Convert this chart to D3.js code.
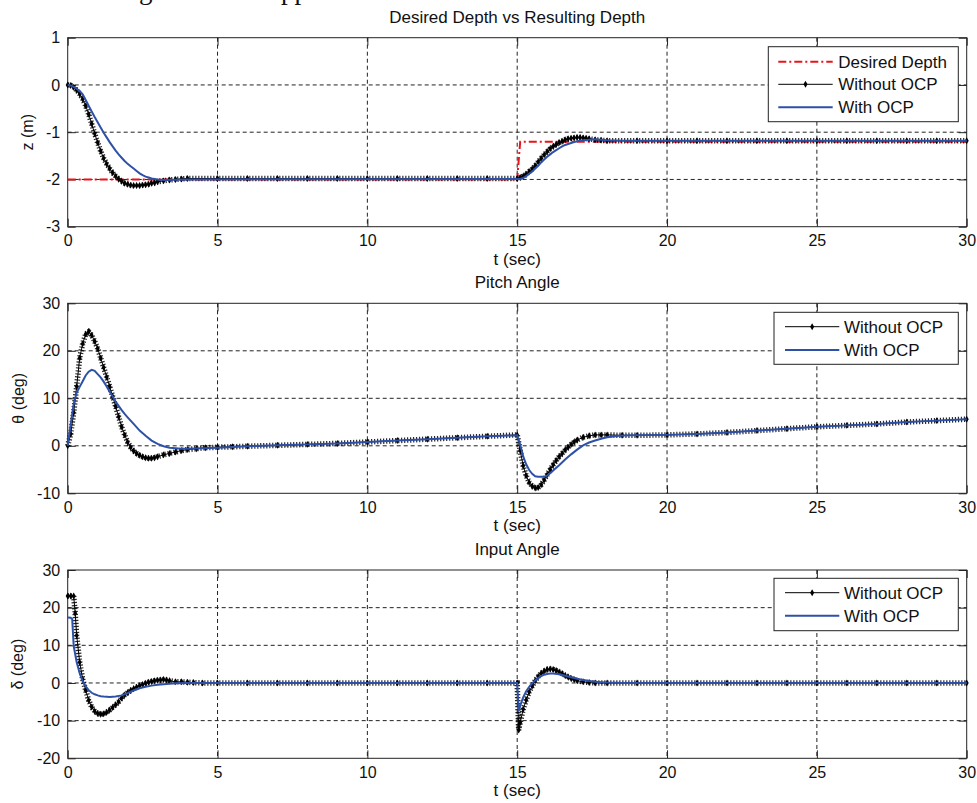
<!DOCTYPE html>
<html><head><meta charset="utf-8">
<script src="https://cdn.jsdelivr.net/npm/d3@7"></script>
<style>
body{margin:0;background:#fff}
text{font-family:"Liberation Sans",Arial,Helvetica,sans-serif;fill:#111}
</style>
</head><body>
<svg id="c" width="977" height="803"></svg>
<script>
// ---------- data ----------
const xTicks = [0, 5, 10, 15, 20, 25, 30];
const depthTicks = [-3, -2, -1, 0, 1];
const pitchTicks = [-10, 0, 10, 20, 30];
const inputTicks = [-20, -10, 0, 10, 20, 30];

// Desired depth
const tDesired = [0, 15.0, 15.1, 30];
const zDesired = [-2, -2, -1.2, -1.2];

// Depth, without OCP
const tDepthNo = [0,0.1,0.2,0.3,0.4,0.5,0.6,0.7,0.8,0.9,1.0,1.1,1.2,1.3,1.4,1.5,1.6,1.7,1.8,1.9,2.0,2.1,2.2,2.3,2.4,2.5,2.6,2.7,2.8,2.9,3.0,3.2,3.4,3.6,3.8,4.0,5,6,7,8,9,10,11,12,13,14,15.0,
  15.1,15.2,15.3,15.4,15.5,15.6,15.7,15.8,15.9,16.0,16.1,16.2,16.3,16.4,16.5,16.6,16.7,16.8,16.9,17.0,17.1,17.2,17.3,17.4,17.6,17.8,18.0,19,20,21,22,23,24,25,26,27,28,29,30];
const zDepthNo = [0,-0.01,-0.05,-0.11,-0.19,-0.30,-0.44,-0.62,-0.82,-1.03,-1.22,-1.40,-1.55,-1.67,-1.77,-1.86,-1.93,-1.99,-2.04,-2.08,-2.10,-2.12,-2.13,-2.13,-2.13,-2.12,-2.11,-2.10,-2.08,-2.07,-2.05,-2.03,-2.01,-2.0,-1.99,-1.98,-1.98,-1.98,-1.98,-1.98,-1.98,-1.98,-1.98,-1.98,-1.98,-1.98,-1.98,
  -1.96,-1.93,-1.89,-1.83,-1.78,-1.71,-1.63,-1.55,-1.48,-1.41,-1.35,-1.30,-1.26,-1.22,-1.19,-1.16,-1.14,-1.13,-1.12,-1.11,-1.11,-1.12,-1.13,-1.14,-1.16,-1.17,-1.18,-1.18,-1.18,-1.18,-1.18,-1.18,-1.18,-1.18,-1.18,-1.18,-1.18,-1.18,-1.18];

// Depth, with OCP
const tDepthOcp = [0,0.1,0.2,0.3,0.4,0.5,0.6,0.7,0.8,0.9,1.0,1.1,1.2,1.3,1.4,1.5,1.6,1.7,1.8,1.9,2.0,2.1,2.2,2.3,2.4,2.5,2.6,2.7,2.8,3.0,3.2,4,15.0,
  15.1,15.2,15.3,15.4,15.5,15.6,15.7,15.8,15.9,16.0,16.1,16.2,16.3,16.4,16.5,16.6,16.7,16.8,16.9,17.0,17.2,17.4,17.6,17.8,18.0,18.5,30];
const zDepthOcp = [0,-0.01,-0.04,-0.08,-0.13,-0.20,-0.32,-0.44,-0.56,-0.68,-0.79,-0.90,-1.01,-1.11,-1.21,-1.30,-1.39,-1.47,-1.54,-1.61,-1.67,-1.72,-1.77,-1.82,-1.87,-1.91,-1.94,-1.96,-1.98,-2.0,-2.01,-2.0,-1.99,
  -1.99,-1.97,-1.93,-1.88,-1.83,-1.77,-1.71,-1.64,-1.58,-1.52,-1.47,-1.42,-1.38,-1.34,-1.30,-1.27,-1.25,-1.23,-1.21,-1.19,-1.17,-1.16,-1.15,-1.16,-1.17,-1.18,-1.18];

// Pitch, without OCP
const tPitchNo = [0,0.1,0.2,0.3,0.4,0.5,0.6,0.7,0.8,0.9,1.0,1.1,1.2,1.3,1.4,1.5,1.6,1.7,1.8,1.9,2.0,2.1,2.2,2.3,2.4,2.5,2.6,2.7,2.8,2.9,3.0,3.2,3.4,3.6,3.8,4.0,4.3,4.6,5.0,5.5,6,7,8,9,10,11,12,13,14,15,
  15.1,15.2,15.3,15.4,15.5,15.6,15.7,15.8,15.9,16.0,16.1,16.2,16.3,16.4,16.5,16.6,16.7,16.8,16.9,17.0,17.2,17.4,17.6,17.8,18.0,18.5,19,20,21,22,23,24,25,26,27,28,29,30];
const thPitchNo = [0,2.5,7.0,12.5,18.5,21.5,23.5,24.0,23.3,22.0,20.5,18.5,16.5,14.5,12.5,10.4,8.3,6.1,4.0,2.3,0.8,-0.3,-1.1,-1.6,-2.0,-2.3,-2.5,-2.6,-2.6,-2.5,-2.3,-1.9,-1.6,-1.3,-1.0,-0.8,-0.6,-0.4,-0.3,-0.2,-0.1,0.1,0.3,0.5,0.8,1.1,1.4,1.7,2.0,2.3,
  -1.0,-4.2,-6.3,-7.7,-8.5,-8.9,-8.8,-8.2,-7.2,-6.1,-5.0,-4.0,-3.1,-2.3,-1.6,-0.9,-0.3,0.3,0.8,1.2,1.8,2.1,2.3,2.3,2.3,2.2,2.2,2.3,2.5,2.8,3.2,3.6,4.0,4.3,4.6,5.0,5.3,5.6];

// Pitch, with OCP
const tPitchOcp = [0,0.1,0.2,0.3,0.4,0.5,0.6,0.7,0.8,0.9,1.0,1.1,1.2,1.3,1.4,1.5,1.6,1.7,1.8,1.9,2.0,2.2,2.4,2.6,2.8,3.0,3.2,3.4,3.6,3.8,4.0,4.5,5,6,7,8,9,10,11,12,13,14,15.0,
  15.1,15.2,15.3,15.4,15.5,15.6,15.7,15.8,15.9,16.0,16.1,16.2,16.4,16.6,16.8,17.0,17.2,17.4,17.6,17.8,18.0,18.4,18.8,20,21,22,23,24,25,26,27,28,29,30];
const thPitchOcp = [0,4.5,8.8,11.2,12.4,13.6,14.8,15.6,16.0,15.8,15.1,14.4,13.5,12.5,11.4,10.4,9.3,8.4,7.5,6.7,6.0,4.6,3.2,2.1,1.1,0.4,-0.1,-0.4,-0.5,-0.6,-0.6,-0.5,-0.4,-0.1,0.1,0.3,0.5,0.8,1.1,1.4,1.7,2.0,2.2,
  0.2,-2.2,-3.9,-5.1,-5.9,-6.4,-6.5,-6.5,-6.5,-6.3,-5.8,-5.2,-4.1,-2.9,-1.8,-0.8,0.1,0.7,1.1,1.5,1.8,2.1,2.2,2.3,2.5,2.8,3.2,3.6,4.0,4.3,4.6,5.0,5.3,5.6];

// Input angle, without OCP
const tInputNo = [0,0.1,0.2,0.25,0.3,0.4,0.5,0.6,0.7,0.8,0.9,1.0,1.1,1.2,1.3,1.4,1.5,1.6,1.7,1.8,1.9,2.0,2.1,2.2,2.3,2.4,2.5,2.6,2.7,2.8,2.9,3.0,3.1,3.2,3.3,3.4,3.6,3.8,4.0,4.2,4.5,5,6,7,8,9,10,11,12,13,14,15.0,
  15.05,15.1,15.2,15.3,15.4,15.5,15.6,15.7,15.8,15.9,16.0,16.1,16.2,16.3,16.4,16.5,16.6,16.7,16.8,16.9,17.0,17.2,17.4,17.6,18,19,20,21,22,23,24,25,26,27,28,29,30];
const dInputNo = [23.1,23.1,23.1,18.5,12.6,5.5,1.0,-1.9,-4.6,-6.4,-7.5,-8.1,-8.3,-8.2,-7.8,-7.2,-6.5,-5.8,-5.0,-4.0,-3.2,-2.6,-2.0,-1.5,-1.1,-0.7,-0.4,-0.1,0.2,0.4,0.6,0.7,0.8,0.9,0.8,0.6,0.3,0.3,0.2,0.1,0,0,0,0,0,0,0,0,0,0,0,0,
  -12.5,-10.5,-7.0,-4.5,-2.4,-0.8,0.6,1.7,2.6,3.2,3.6,3.7,3.6,3.3,2.9,2.5,2.0,1.6,1.2,0.9,0.6,0.3,0.1,0,0,0,0,0,0,0,0,0,0,0,0,0,0];

// Input angle, with OCP
const tInputOcp = [0,0.1,0.15,0.2,0.3,0.4,0.5,0.6,0.7,0.8,0.9,1.0,1.1,1.2,1.4,1.6,1.8,2.0,2.2,2.4,2.6,2.8,3.0,3.3,3.6,4.0,15.0,
  15.05,15.1,15.2,15.3,15.4,15.5,15.6,15.7,15.8,15.9,16.0,16.1,16.2,16.4,16.6,16.8,17.0,17.2,17.4,17.6,17.8,18.0,18.5,30];
const dInputOcp = [17.4,17.3,17.0,9.8,5.5,2.6,0.5,-0.9,-1.9,-2.6,-3.0,-3.3,-3.5,-3.6,-3.7,-3.6,-3.3,-2.7,-2.0,-1.4,-1.0,-0.7,-0.5,-0.3,-0.1,0,0,
  -7.5,-6.0,-3.8,-2.2,-1.0,-0.1,0.7,1.3,1.8,2.2,2.4,2.5,2.5,2.3,1.9,1.5,1.1,0.8,0.5,0.3,0.2,0.1,0,0];

const legendDepth = ["Desired Depth", "Without OCP", "With OCP"];
const legendAngle = ["Without OCP", "With OCP"];

// ---------- drawing ----------
const svg = d3.select("#c");
svg.append("rect").attr("width", 977).attr("height", 803).attr("fill", "#fff");

// cut-off line of the surrounding document (only descenders visible, as in the reference)
svg.append("text").attr("x", 139).attr("y", -1).style("font-family", "'Liberation Serif',serif").style("font-size", "27px").text("g");
svg.append("text").attr("x", 281).attr("y", -1).style("font-family", "'Liberation Serif',serif").style("font-size", "27px").text("pp");

const BLUE = "#2e51a8";
const X0 = 67.7, X1 = 966.7;
const x = d3.scaleLinear().domain([0, 30]).range([X0, X1]);
const zip = (t, v) => t.map((d, i) => [d, v[i]]);
const fmt = d => String(d);

const panels = [
  { title: "Desired Depth vs Resulting Depth", ylabel: "z (m)", ylabX: 27, top: 37.7, bottom: 226.7,
    domain: [-3, 1], ticks: depthTicks,
    desired: zip(tDesired, zDesired), no: zip(tDepthNo, zDepthNo), ocp: zip(tDepthOcp, zDepthOcp),
    legend: legendDepth, lg: { x: 768.3, y: 46.7, w: 190, h: 75, rows: [61.7, 84.3, 107.3], l1: 778.3, l2: 832.7, tx: 838.3 } },
  { title: "Pitch Angle", ylabel: "\u03b8 (deg)", ylabX: 18, top: 303.3, bottom: 493.3,
    domain: [-10, 30], ticks: pitchTicks,
    no: zip(tPitchNo, thPitchNo), ocp: zip(tPitchOcp, thPitchOcp),
    legend: legendAngle, lg: { x: 774, y: 312.3, w: 184.3, h: 52, rows: [326.7, 350], l1: 785, l2: 839.3, tx: 844 } },
  { title: "Input Angle", ylabel: "\u03b4 (deg)", ylabX: 17, top: 570, bottom: 758.3,
    domain: [-20, 30], ticks: inputTicks,
    no: zip(tInputNo, dInputNo), ocp: zip(tInputOcp, dInputOcp),
    legend: legendAngle, lg: { x: 774, y: 578.3, w: 184.3, h: 52.4, rows: [592.7, 615.7], l1: 785, l2: 839.3, tx: 844 } }
];

panels.forEach(p => {
  const y = d3.scaleLinear().domain(p.domain).range([p.bottom, p.top]);
  const g = svg.append("g");

  // grid
  const gridX = xTicks.filter(v => v > 0 && v < 30);
  const gridY = p.ticks.filter(v => v > p.domain[0] && v < p.domain[1]);
  g.selectAll(".gx").data(gridX).join("line")
    .attr("x1", d => x(d)).attr("x2", d => x(d)).attr("y1", p.top).attr("y2", p.bottom)
    .attr("stroke", "#222").attr("stroke-dasharray", "4,3").attr("stroke-width", 1);
  g.selectAll(".gy").data(gridY).join("line")
    .attr("x1", X0).attr("x2", X1).attr("y1", d => y(d)).attr("y2", d => y(d))
    .attr("stroke", "#222").attr("stroke-dasharray", "4,3").attr("stroke-width", 1);

  // axes with inward ticks
  const ax = g.append("g").attr("transform", `translate(0,${p.bottom})`)
    .call(d3.axisBottom(x).tickValues(xTicks).tickSizeInner(-8).tickSizeOuter(0).tickPadding(8).tickFormat(fmt));
  const axT = g.append("g").attr("transform", `translate(0,${p.top})`)
    .call(d3.axisTop(x).tickValues(xTicks).tickSizeInner(-8).tickSizeOuter(0).tickFormat(""));
  const ay = g.append("g").attr("transform", `translate(${X0},0)`)
    .call(d3.axisLeft(y).tickValues(p.ticks).tickSizeInner(-8).tickSizeOuter(0).tickPadding(7).tickFormat(fmt));
  const ayR = g.append("g").attr("transform", `translate(${X1},0)`)
    .call(d3.axisRight(y).tickValues(p.ticks).tickSizeInner(-8).tickSizeOuter(0).tickFormat(""));
  [ax, axT, ay, ayR].forEach(a => {
    a.select(".domain").remove();
    a.selectAll("line").attr("stroke", "#222");
    a.selectAll("text").style("font-size", "16px").attr("fill", "#111");
  });
  ay.selectAll("text").attr("x", -7.5);

  // frame
  g.append("rect").attr("x", X0).attr("y", p.top).attr("width", X1 - X0).attr("height", p.bottom - p.top)
    .attr("fill", "none").attr("stroke", "#222").attr("stroke-width", 1);

  const line = d3.line().x(d => x(d[0])).y(d => y(d[1]));

  if (p.desired) {
    g.append("path").attr("d", line(p.desired)).attr("fill", "none")
      .attr("stroke", "#e8141c").attr("stroke-width", 2).attr("stroke-dasharray", "8,3,2,3");
  }
  // without OCP: line + dense dot markers
  g.append("path").attr("d", line(p.no)).attr("fill", "none")
    .attr("stroke", "#000").attr("stroke-width", 5.5).attr("stroke-dasharray", "1.2,1.8").attr("opacity", 0.85);
  g.append("path").attr("d", line(p.no)).attr("fill", "none").attr("stroke", "#000").attr("stroke-width", 1);
  g.selectAll(".mk").data(p.no).join("path")
    .attr("transform", d => `translate(${x(d[0])},${y(d[1])})`)
    .attr("d", d3.symbol(d3.symbolDiamond, 14)).attr("fill", "#000");
  // with OCP
  g.append("path").attr("d", line(p.ocp)).attr("fill", "none").attr("stroke", BLUE).attr("stroke-width", 2);

  // titles and labels
  svg.append("text").attr("x", (X0 + X1) / 2).attr("y", p.top - 15).attr("text-anchor", "middle")
    .style("font-size", "17px").text(p.title);
  svg.append("text").attr("x", (X0 + X1) / 2).attr("y", p.bottom + 38).attr("text-anchor", "middle")
    .style("font-size", "17px").text("t (sec)");
  svg.append("text").attr("transform", `translate(${p.ylabX},${(p.top + p.bottom) / 2}) rotate(-90)`)
    .attr("text-anchor", "middle").attr("dy", "0.35em").style("font-size", "16px").text(p.ylabel);

  // legend
  const L = p.lg;
  const lg = svg.append("g");
  lg.append("rect").attr("x", L.x).attr("y", L.y).attr("width", L.w).attr("height", L.h)
    .attr("fill", "#fff").attr("stroke", "#222").attr("stroke-width", 1);
  p.legend.forEach((name, i) => {
    const ry = L.rows[i];
    const kind = name === "Desired Depth" ? "des" : name === "Without OCP" ? "no" : "ocp";
    const ln = lg.append("line").attr("x1", L.l1).attr("x2", L.l2).attr("y1", ry).attr("y2", ry);
    if (kind === "des") ln.attr("stroke", "#e8141c").attr("stroke-width", 2).attr("stroke-dasharray", "8,3,2,3");
    else if (kind === "no") {
      ln.attr("stroke", "#000").attr("stroke-width", 1);
      lg.append("path").attr("transform", `translate(${(L.l1 + L.l2) / 2},${ry})`)
        .attr("d", d3.symbol(d3.symbolDiamond, 14)).attr("fill", "#000");
    } else ln.attr("stroke", BLUE).attr("stroke-width", 2);
    lg.append("text").attr("x", L.tx).attr("y", ry).attr("dy", "0.35em").style("font-size", "17px").text(name);
  });
});
</script>
</body></html>
